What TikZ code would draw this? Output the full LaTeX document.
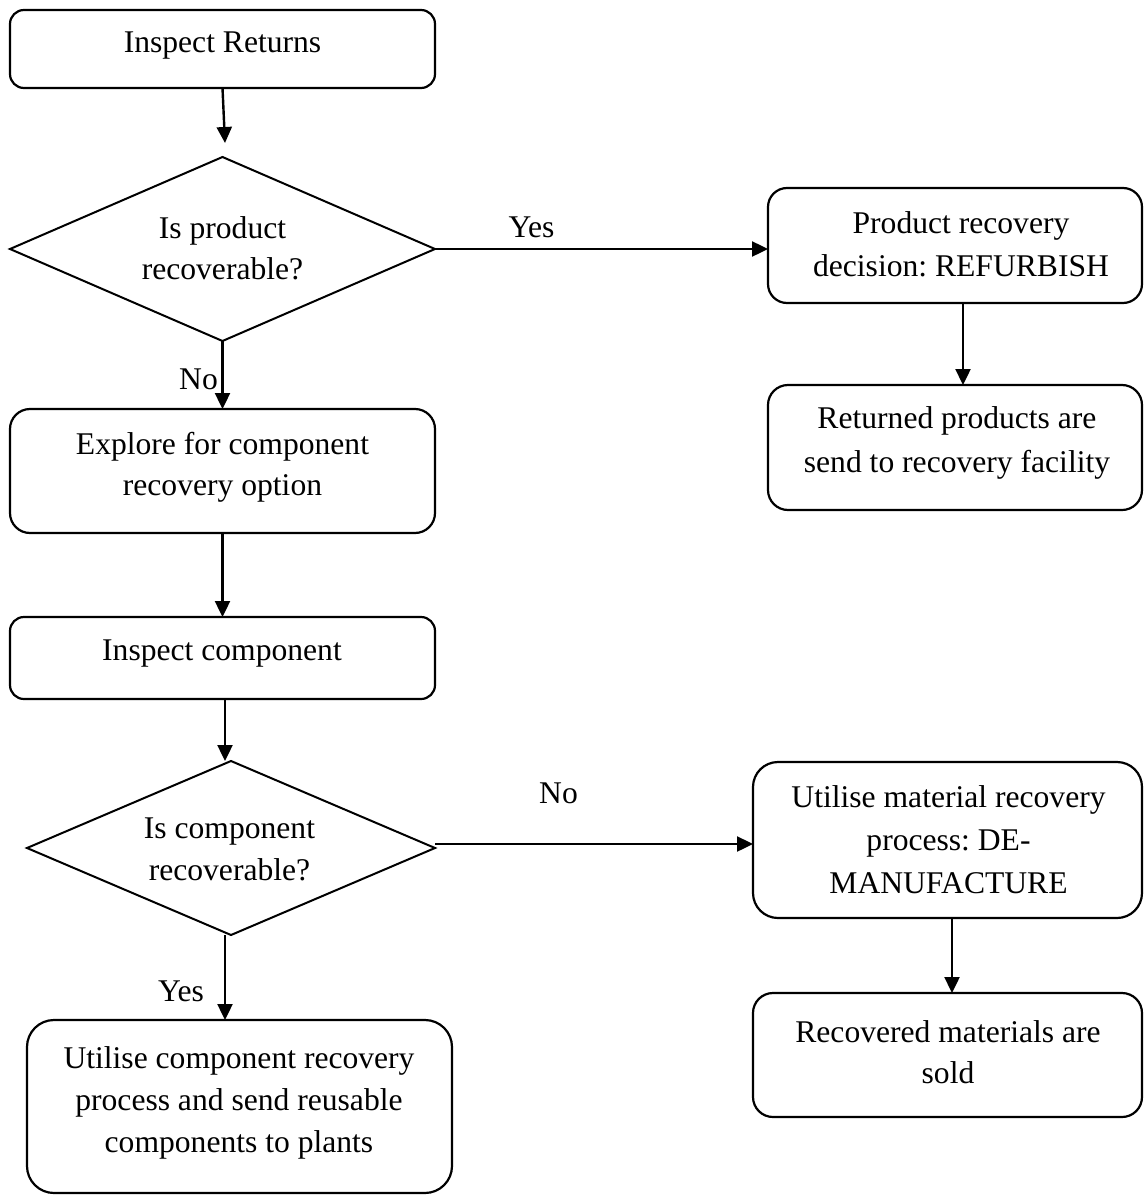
\documentclass[tikz,border=0pt]{standalone}
\usepackage{fontspec}
\setmainfont{Liberation Serif}
\frenchspacing
\usetikzlibrary{shapes.geometric,arrows.meta}
\begin{document}
\begin{tikzpicture}[x=1pt,y=-1pt,
  box/.style={draw=black,line width=2.2pt,rectangle,inner sep=0pt,outer sep=0pt},
  dia/.style={draw=black,line width=2pt,diamond,inner sep=0pt,outer sep=0pt},
  txt/.style={anchor=base,align=center,inner sep=0pt,font=\fontsize{31.6}{42}\selectfont},
  lab/.style={anchor=base,inner sep=0pt,font=\fontsize{31.6}{42}\selectfont},
  arr/.style={line width=2.4pt,-{Triangle[length=16pt,width=15pt]}}]
\useasboundingbox (0,0) rectangle (1143,1196);
% boxes
\node[box,minimum width=425pt,minimum height=78pt,rounded corners=14pt] (ret) at (222.5,49) {};
\node[dia,minimum width=425pt,minimum height=184pt] (d1) at (222.5,249) {};
\node[box,minimum width=374pt,minimum height=115pt,rounded corners=19pt] (prod) at (955,245.5) {};
\node[box,minimum width=374pt,minimum height=125pt,rounded corners=20pt] (ret2) at (955,447.5) {};
\node[box,minimum width=425pt,minimum height=124pt,rounded corners=20pt] (expl) at (222.5,471) {};
\node[box,minimum width=425pt,minimum height=82pt,rounded corners=14pt] (insp) at (222.5,658) {};
\node[dia,minimum width=408pt,minimum height=174pt] (d2) at (231,848) {};
\node[box,minimum width=389pt,minimum height=156pt,rounded corners=25pt] (mat) at (947.5,840) {};
\node[box,minimum width=389pt,minimum height=124pt,rounded corners=20pt] (rec) at (947.5,1055) {};
\node[box,minimum width=425pt,minimum height=173pt,rounded corners=27pt] (util) at (239.5,1106.5) {};
% texts (anchored at the baseline of the last line)
\node[txt] (t1) at (222.5,53) {Inspect Returns};
\node[txt] (t2) at (222.5,279) {Is product\\[-1pt]recoverable?};
\node[txt] (t3) at (961,276) {Product recovery\\[1pt]decision: REFURBISH};
\node[txt] (t4) at (957,472) {Returned products are\\[2pt]send to recovery facility};
\node[txt] (t5) at (222.5,495) {Explore for component\\[-1pt]recovery option};
\node[txt] (t6) at (222,660) {Inspect component};
\node[txt] (t7) at (229.5,880) {Is component\\recoverable?};
\node[txt] (t8) at (948.5,893) {Utilise material recovery\\[1pt]process: DE-\\[1pt]MANUFACTURE};
\node[txt] (t9) at (948,1083) {Recovered materials are\\[-1pt]sold};
\node[txt] (t10) at (239,1152) {Utilise component recovery\\process and send reusable\\components to plants};
% connector labels
\node[lab] (lyes1) at (531.5,237) {Yes};
\node[lab] (lno1) at (198.5,389) {No};
\node[lab] (lno2) at (558.5,803) {No};
\node[lab] (lyes2) at (181,1001) {Yes};
% connectors
\coordinate (a1) at (225,143);
\draw[arr] (ret.south) -- (a1);
\draw[arr] (d1.south) -- (expl.north);
\draw[arr] (d1.east) -- (d1.east -| prod.west);
\draw[arr] ([xshift=8pt]prod.south) -- ([xshift=8pt]prod.south |- ret2.north);
\draw[arr] (expl.south) -- (insp.north);
\draw[arr] ([xshift=2.5pt]insp.south) -- ([xshift=2.5pt]insp.south |- d2.north);
\coordinate (e2) at (435,844);
\draw[arr] (e2) -- (e2 -| mat.west);
\draw[arr] ([xshift=4.5pt]mat.south) -- ([xshift=4.5pt]mat.south |- rec.north);
\coordinate (b2) at (225,935);
\draw[arr] (b2) -- (b2 |- util.north);
\end{tikzpicture}
\end{document}
